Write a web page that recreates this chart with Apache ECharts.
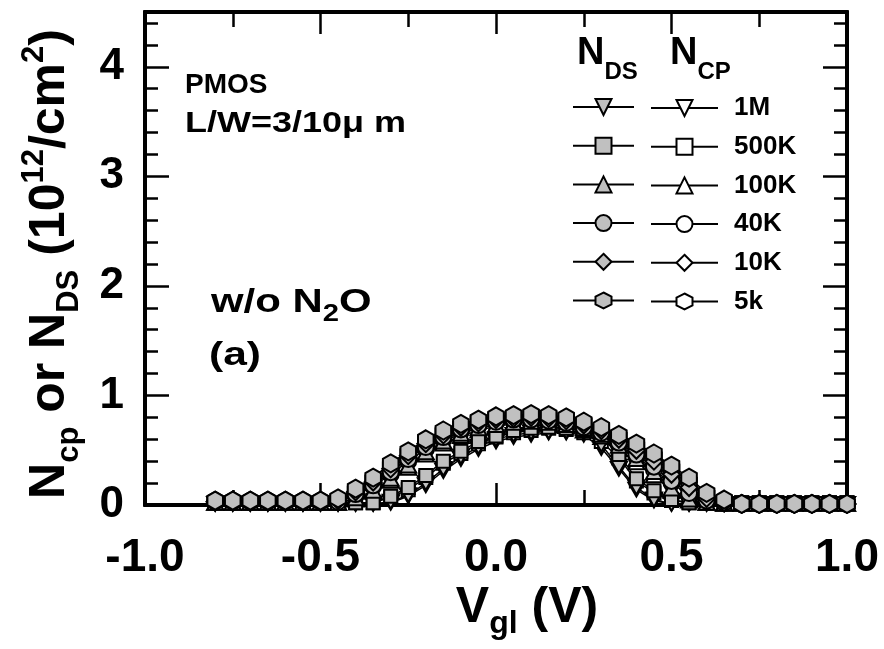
<!DOCTYPE html>
<html><head><meta charset="utf-8">
<script src="https://cdn.jsdelivr.net/npm/echarts@6/dist/echarts.min.js"></script>
<style>html,body{margin:0;padding:0;background:#fff}#c{width:884px;height:649px}</style>
</head><body><div id="c"></div>
<script>
// ---- data ----
const vgl = [-0.8,-0.75,-0.7,-0.65,-0.6,-0.55,-0.5,-0.45,-0.4,-0.35,-0.3,-0.25,-0.2,-0.15,-0.1,-0.05,0,0.05,0.1,0.15,0.2,0.25,0.3,0.35,0.4,0.45,0.5,0.55,0.6,0.65,0.7,0.75,0.8,0.85,0.9,0.95,1.0];
const freqs = ['1M','500K','100K','40K','10K','5k'];
const xTicks = [-1.0,-0.5,0.0,0.5,1.0];
const yTicks = [0,1,2,3,4];

// N_DS (filled symbols)
const nds_1M   = [0.01,0.01,0.01,0.01,0.01,0.01,0.01,0.01,0.01,0.01,0.03,0.09,0.20,0.33,0.44,0.53,0.60,0.64,0.66,0.67,0.67,0.66,0.55,0.35,0.16,0.05,0.01,0.01,0.01,0.01,0.01,0.01,0.01,0.01,0.01,0.01,0.01];
const nds_500K = [0.02,0.02,0.02,0.02,0.02,0.02,0.02,0.02,0.02,0.02,0.08,0.16,0.27,0.40,0.49,0.58,0.63,0.68,0.70,0.71,0.70,0.68,0.62,0.46,0.24,0.13,0.05,0.02,0.02,0.02,0.02,0.02,0.02,0.02,0.02,0.02,0.02];
const nds_100K = [0.02,0.02,0.02,0.02,0.02,0.02,0.02,0.02,0.06,0.13,0.24,0.36,0.48,0.58,0.65,0.70,0.73,0.75,0.76,0.75,0.73,0.70,0.64,0.54,0.42,0.30,0.15,0.05,0.02,0.01,0.01,0.01,0.01,0.01,0.01,0.01,0.01];
const nds_40K  = [0.03,0.03,0.03,0.03,0.03,0.03,0.03,0.03,0.10,0.18,0.30,0.42,0.53,0.62,0.69,0.73,0.76,0.78,0.78,0.77,0.75,0.71,0.66,0.57,0.46,0.35,0.22,0.11,0.04,0.02,0.01,0.01,0.01,0.01,0.01,0.01,0.01];
const nds_10K  = [0.03,0.03,0.03,0.03,0.03,0.03,0.03,0.04,0.12,0.21,0.33,0.45,0.56,0.64,0.71,0.75,0.78,0.79,0.80,0.79,0.77,0.73,0.68,0.60,0.50,0.40,0.28,0.16,0.06,0.02,0.01,0.01,0.01,0.01,0.01,0.01,0.01];
const nds_5k   = [0.04,0.04,0.04,0.04,0.04,0.04,0.04,0.06,0.15,0.25,0.38,0.49,0.60,0.68,0.74,0.78,0.81,0.82,0.83,0.82,0.80,0.76,0.71,0.64,0.56,0.47,0.36,0.25,0.11,0.05,0.01,0.01,0.01,0.01,0.01,0.01,0.01];

// N_CP (open symbols)
const ncp_1M   = [0.01,0.01,0.01,0.01,0.01,0.01,0.01,0.01,0.01,0.01,0.02,0.08,0.18,0.31,0.42,0.51,0.58,0.62,0.64,0.66,0.66,0.64,0.52,0.33,0.14,0.04,0.01,0.01,0.01,0.01,0.01,0.01,0.01,0.01,0.01,0.01,0.01];
const ncp_500K = [0.02,0.02,0.02,0.02,0.02,0.02,0.02,0.02,0.02,0.02,0.07,0.14,0.25,0.38,0.47,0.56,0.62,0.66,0.68,0.70,0.69,0.66,0.58,0.43,0.22,0.11,0.04,0.02,0.02,0.02,0.02,0.02,0.02,0.02,0.02,0.02,0.02];
const ncp_100K = [0.02,0.02,0.02,0.02,0.02,0.02,0.02,0.02,0.05,0.12,0.22,0.34,0.46,0.56,0.63,0.68,0.72,0.74,0.74,0.74,0.72,0.68,0.62,0.51,0.39,0.27,0.13,0.04,0.02,0.01,0.01,0.01,0.01,0.01,0.01,0.01,0.01];
const ncp_40K  = [0.03,0.03,0.03,0.03,0.03,0.03,0.03,0.03,0.09,0.17,0.28,0.40,0.51,0.60,0.67,0.72,0.75,0.77,0.77,0.76,0.74,0.70,0.64,0.55,0.44,0.32,0.20,0.09,0.03,0.02,0.01,0.01,0.01,0.01,0.01,0.01,0.01];
const ncp_10K  = [0.03,0.03,0.03,0.03,0.03,0.03,0.03,0.04,0.11,0.20,0.31,0.43,0.54,0.63,0.69,0.74,0.77,0.78,0.79,0.78,0.76,0.72,0.66,0.58,0.48,0.37,0.25,0.14,0.05,0.02,0.01,0.01,0.01,0.01,0.01,0.01,0.01];
const ncp_5k   = [0.04,0.04,0.04,0.04,0.04,0.04,0.04,0.05,0.13,0.23,0.35,0.47,0.58,0.66,0.72,0.77,0.80,0.81,0.82,0.81,0.79,0.75,0.70,0.62,0.53,0.44,0.33,0.21,0.09,0.04,0.01,0.01,0.01,0.01,0.01,0.01,0.01];

const ndsData = [nds_1M, nds_500K, nds_100K, nds_40K, nds_10K, nds_5k];
const ncpData = [ncp_1M, ncp_500K, ncp_100K, ncp_40K, ncp_10K, ncp_5k];

// ---- styles ----
const FONT = '"Liberation Sans", Arial, Helvetica, sans-serif';
const hexPath = 'path://M5,0 L9.33,2.5 L9.33,7.5 L5,10 L0.67,7.5 L0.67,2.5 Z';
const symbols = [
  {symbol:'path://M0,0 L10,0 L5,8.66 Z', size:16},
  {symbol:'rect', size:13},
  {symbol:'path://M5,0 L10,8.66 L0,8.66 Z', size:16},
  {symbol:'circle', size:16},
  {symbol:'path://M5,0 L10,5 L5,10 L0,5 Z', size:17},
  {symbol:hexPath, size:18}
];

function mkSeries(name, vals, k, filled) {
  return {
    type:'line', name:name,
    data: vgl.map((x,i)=>[x, vals[i]]),
    symbol: symbols[k].symbol, symbolSize: symbols[k].size, symbolKeepAspect:true,
    showAllSymbol:true,
    lineStyle:{color:'#000', width:1.5},
    itemStyle:{color: filled ? '#c0c0c0' : '#ffffff', borderColor:'#000', borderWidth:2},
    emphasis:{disabled:true},
    xAxisIndex:0, yAxisIndex:0, animation:false
  };
}
const series = [];
freqs.forEach((f,k)=>series.push(mkSeries(f, ncpData[k], k, false)));
freqs.forEach((f,k)=>series.push(mkSeries('NDS ' + f, ndsData[k], k, true)));

const line = {show:true, onZero:false, lineStyle:{color:'#000', width:4}};
function xAx(pos, interval, len, labels) {
  return {type:'value', position:pos, min:-1, max:1, interval:interval,
    axisLine:line, splitLine:{show:false},
    axisTick:{show:true, inside:true, length:len, lineStyle:{color:'#000', width:2.5}},
    axisLabel: labels ? {show:true, margin:30, fontSize:46, fontWeight:'bold', fontFamily:FONT, color:'#000',
      formatter: v => { const t = xTicks.find(a => Math.abs(a - v) < 1e-9); return t === undefined ? '' : t.toFixed(1); }} : {show:false}};
}
function yAx(pos, interval, len, labels) {
  return {type:'value', position:pos, min:0, max:4.5, interval:interval,
    axisLine:line, splitLine:{show:false},
    axisTick:{show:true, inside:true, length:len, lineStyle:{color:'#000', width:2.5}},
    axisLabel: labels ? {show:true, margin:21, fontSize:44, fontWeight:'bold', fontFamily:FONT, color:'#000',
      formatter: v => { const t = yTicks.find(a => Math.abs(a - v) < 1e-9); return t === undefined ? '' : String(t); }} : {show:false}};
}

function subRich(F, f, d) { // subscript
  const P = Math.round(2 * (d + 0.358 * (F - f)));
  return {fontSize:f, fontWeight:'bold', fontFamily:FONT, fill:'#000', lineHeight:f, padding:[P,0,0,0], verticalAlign:'middle'};
}
function supRich(F, f, u) { // superscript
  const P = Math.round(2 * (u + 0.358 * f - 0.358 * F));
  return {fontSize:f, fontWeight:'bold', fontFamily:FONT, fill:'#000', lineHeight:f, padding:[0,0,P,0], verticalAlign:'middle'};
}
function txt(x, y, text, F, opts) {
  opts = opts || {};
  return {type:'text', x:x, y:y, rotation: opts.rotation || 0, scaleX: opts.sx || 1, z:100,
    style:{text:text, fontSize:F, fontWeight:'bold', fontFamily:FONT, fill:'#000',
      align: opts.align || 'left', verticalAlign:'middle', lineHeight: opts.lh || F, rich: opts.rich || {}}};
}

const chart = echarts.init(document.getElementById('c'), null, {renderer:'canvas'});
chart.setOption({
  animation:false,
  backgroundColor:'#fff',
  grid:{left:145, right:37, top:12, bottom:144, containLabel:false},
  xAxis:[xAx('bottom',0.5,22,true), xAx('bottom',0.25,15,false), xAx('top',0.5,22,false), xAx('top',0.25,15,false)],
  yAxis:[yAx('left',1,24,true), yAx('left',0.2,13,false), yAx('right',1,24,false), yAx('right',0.2,13,false)],
  legend:[
    {data: freqs.map(f=>'NDS ' + f), orient:'vertical', left:572, top:97, padding:0,
     itemWidth:61, itemHeight:20, itemGap:18.7, selectedMode:false,
     formatter:()=>' ', textStyle:{fontSize:10, lineHeight:20}},
    {data: freqs, orient:'vertical', left:650, top:95, padding:0,
     itemWidth:67, itemHeight:20, itemGap:12.7, selectedMode:false,
     textStyle:{fontSize:26, fontWeight:'bold', fontFamily:FONT, color:'#000', padding:[0,0,0,11]}}
  ],
  graphic:[
    txt(50, 264, 'N{s|cp} or N{s|DS} (10{p|12}/cm{p|2})', 50,
        {rotation:Math.PI/2, align:'center', lh:72, rich:{s:subRich(50,31,12), p:supRich(50,31,23)}}),
    txt(527, 608, 'V{s|gl} (V)', 50, {align:'center', lh:66, rich:{s:subRich(50,32,10)}}),
    txt(577, 54, 'N{s|DS}', 38, {lh:60, rich:{s:subRich(38,24,13)}}),
    txt(670, 54, 'N{s|CP}', 38, {lh:60, rich:{s:subRich(38,24,13)}}),
    txt(185, 85, 'PMOS', 28),
    txt(185, 124, 'L/W=3/10\u03bc m', 30, {sx:1.2}),
    txt(211, 303, 'w/o N{s|2}O', 33, {lh:50, sx:1.27, rich:{s:subRich(33,23,8)}}),
    txt(209, 356, '(a)', 34, {sx:1.25})
  ],
  series: series
});
</script></body></html>
